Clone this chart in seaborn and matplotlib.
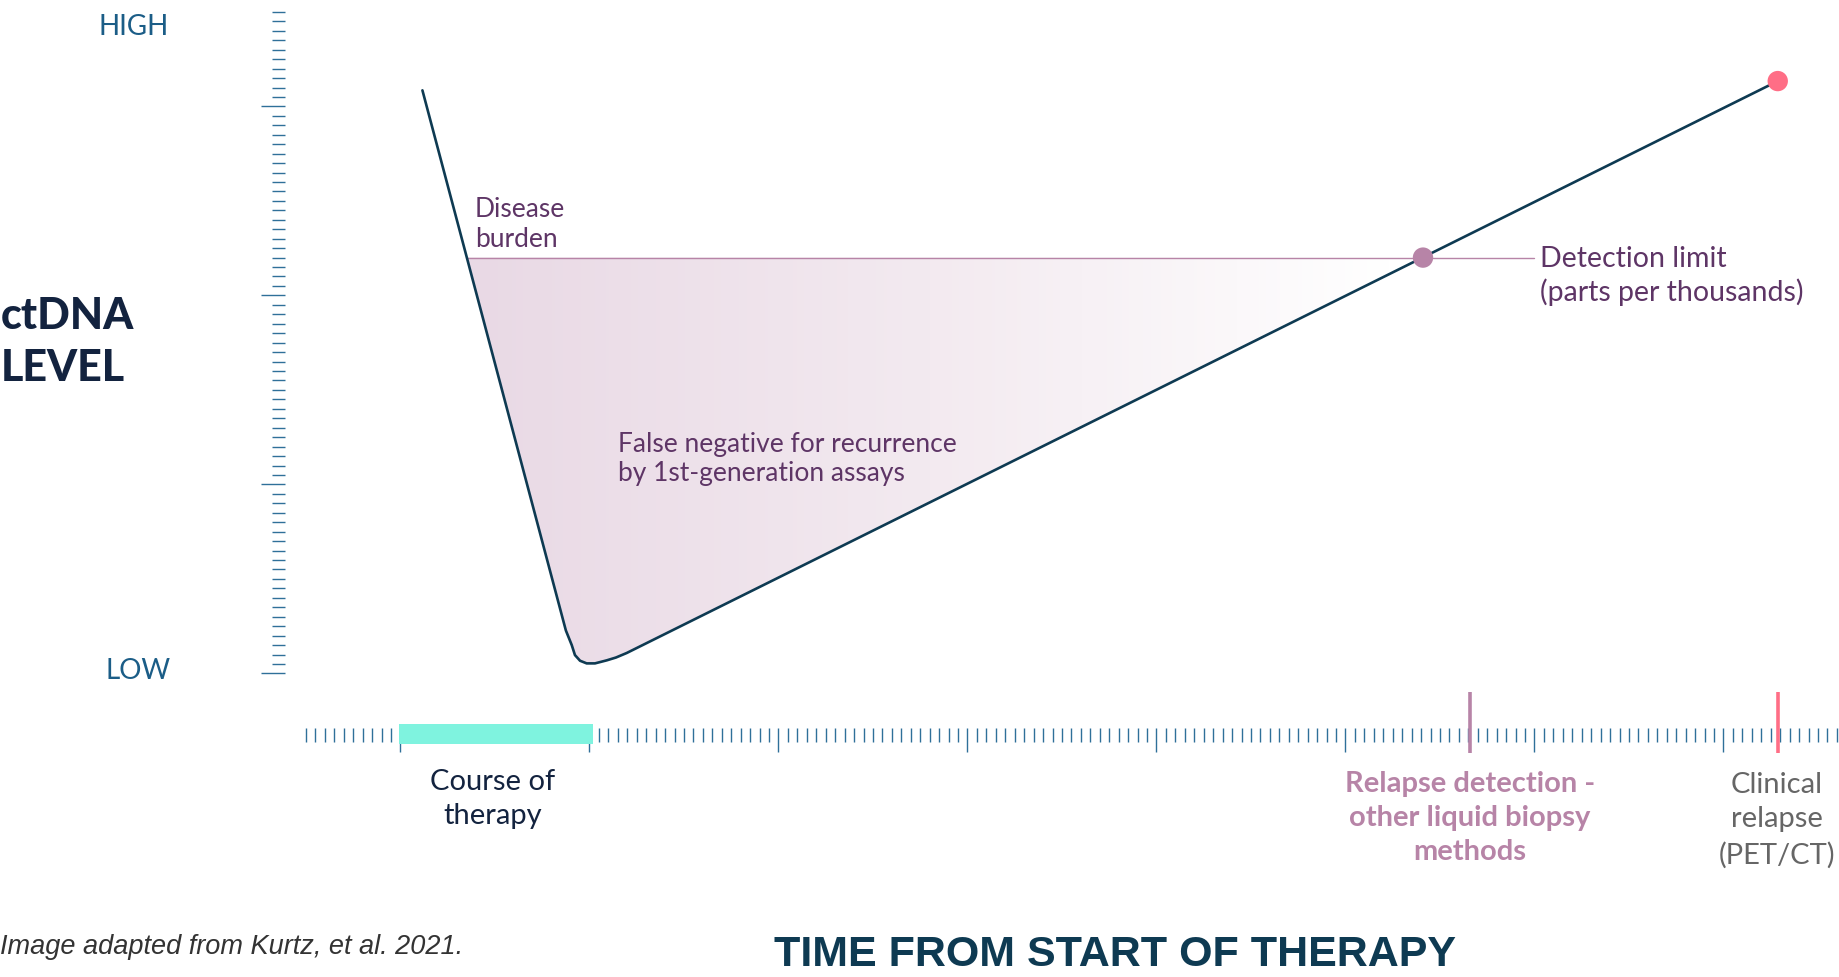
import numpy as np
import pandas as pd
import matplotlib
matplotlib.use("Agg")
import matplotlib.pyplot as plt
import seaborn as sns
from matplotlib.colors import LinearSegmentedColormap

# ---------------- data (time in arbitrary units, ctDNA level in arbitrary units) -------------
curve_time = [0.116, 0.875, 0.906, 0.923, 0.950, 0.985, 1.029, 1.091, 1.140, 1.197, 7.287]
curve_level = [3.085, 0.227, 0.150, 0.097, 0.067, 0.053, 0.053, 0.069, 0.084, 0.108, 3.134]
detection_limit = 2.2
detection_line_end = 6.0
detection_point_time = 5.41
clinical_relapse_time = 7.287
clinical_relapse_level = 3.134
relapse_detection_time = 5.66
therapy_start, therapy_end = 0.0, 1.0
time_major_ticks = [0, 1, 2, 3, 4, 5, 6, 7]
level_major_ticks = [0, 1, 2, 3]
time_tick_range = (-0.5, 7.6)
level_tick_range = (0.0, 3.5)
minor_step = 0.05

level_labels = ["LOW", "HIGH"]
y_title = "ctDNA\nLEVEL"
x_title = "TIME FROM START OF THERAPY"
caption = "Image adapted from Kurtz, et al. 2021."

# ---------------- colours ----------------
NAVY = "#0E3A52"
DARK = "#13233F"
TICK = "#2F7099"
MAUVE = "#B784A7"
PURPLE = "#5E3566"
PINK = "#FF6E86"
AQUA = "#7FF3DF"
GREY = "#666666"

sns.set_theme(style="white")
plt.rcParams["font.family"] = ["Lato", "DejaVu Sans"]

W, H = 1840, 977
fig = plt.figure(figsize=(W / 100, H / 100), dpi=100)
ax = fig.add_axes([0, 0, 1, 1])

# layout: pixel mapping
PPU = 189.0
X0, Y0 = 400.5, 673.4
ax.set_xlim(-X0 / PPU, (W - X0) / PPU)
ax.set_ylim(-(H - Y0) / PPU, Y0 / PPU)


def P(x, y):
    return (x - X0) / PPU, (Y0 - y) / PPU


df = pd.DataFrame({"time": curve_time, "level": curve_level})
t = np.array(curve_time)
lv = np.array(curve_level)

# gradient fill between curve and detection limit
poly = ax.fill_between(t, lv, detection_limit, where=lv <= detection_limit,
                       interpolate=True, facecolor="none", lw=0)
cmap = LinearSegmentedColormap.from_list("fade", ["#E9D9E5", "#F3EAF0", "#FFFFFF"])
grad = np.linspace(0, 1, 256).reshape(1, -1)
im = ax.imshow(grad, cmap=cmap, aspect="auto", extent=[0.35, 5.25, -0.1, 2.3],
               origin="lower", zorder=0.5, interpolation="bilinear")
im.set_clip_path(poly.get_paths()[0], transform=ax.transData)

# detection limit line
i_min = int(np.argmin(lv))
t_start = np.interp(detection_limit, lv[: i_min + 1][::-1], t[: i_min + 1][::-1])
ax.plot([t_start, detection_line_end], [detection_limit, detection_limit],
        color=MAUVE, lw=1.0, zorder=2)

# ctDNA curve
sns.lineplot(data=df, x="time", y="level", ax=ax, color=NAVY, lw=1.9,
             estimator=None, sort=False, zorder=3)
ax.lines[-1].set_solid_joinstyle("round")

# dots
dots = pd.DataFrame({"time": [detection_point_time, clinical_relapse_time],
                     "level": [detection_limit, clinical_relapse_level],
                     "kind": ["detect", "clinical"]})
sns.scatterplot(data=dots, x="time", y="level", hue="kind",
                palette={"detect": MAUVE, "clinical": PINK}, s=215,
                edgecolor="none", ax=ax, zorder=4, legend=False)

# course of therapy bar
ax.fill_between([therapy_start - 0.01, therapy_end + 0.016], -0.373, -0.266,
                color=AQUA, lw=0, zorder=1)

# relapse markers
ax.vlines(relapse_detection_time, -0.42, -0.098, color=MAUVE, lw=2.6, zorder=3)
ax.vlines(clinical_relapse_time, -0.42, -0.098, color=PINK, lw=2.6, zorder=3)

# ---------------- rulers (axes ticks) ----------------
for s in ax.spines.values():
    s.set_visible(False)
ax.spines["left"].set_position(("data", -0.611))
ax.spines["bottom"].set_position(("data", -0.287))
ax.set_xticks(time_major_ticks)
ax.set_xticks(np.arange(time_tick_range[0], time_tick_range[1] + 1e-9, minor_step), minor=True)
ax.set_yticks(level_major_ticks)
ax.set_yticks(np.arange(level_tick_range[0], level_tick_range[1] + 1e-9, minor_step), minor=True)
ax.set_xticklabels([])
ax.set_yticklabels([])
ax.tick_params(axis="x", which="minor", direction="out", length=10, width=1.0,
               color=TICK, bottom=True, top=False, labelbottom=False)
ax.tick_params(axis="x", which="major", direction="out", length=17, width=1.0,
               color=TICK, bottom=True, top=False, labelbottom=False)
ax.tick_params(axis="y", which="minor", direction="out", length=9.3, width=1.0,
               color=TICK, left=True, right=False, labelleft=False)
ax.tick_params(axis="y", which="major", direction="out", length=17.5, width=1.0,
               color=TICK, left=True, right=False, labelleft=False)
ax.set_xlabel("")
ax.set_ylabel("")
ax.grid(False)

# ---------------- texts ----------------
ax.text(*P(169, 27), level_labels[1], ha="right", va="center", fontsize=20,
        color="#1B5D87")
ax.text(*P(171, 671), level_labels[0], ha="right", va="center", fontsize=20,
        color="#1B5D87")
ax.text(*P(1, 342), y_title, ha="left", va="center", fontsize=31, fontweight="black",
        color=DARK, linespacing=1.35)

ax.text(*P(475, 224.5), "Disease\nburden", ha="left", va="center", fontsize=19,
        color=PURPLE, linespacing=1.24)
ax.text(*P(618, 459), "False negative for recurrence\nby 1st-generation assays",
        ha="left", va="center", fontsize=19, color=PURPLE, linespacing=1.24)
ax.text(*P(1540, 276), "Detection limit\n(parts per thousands)", ha="left",
        va="center", fontsize=20.5, color=PURPLE, linespacing=1.31)

ax.text(*P(493, 799), "Course of\ntherapy", ha="center", va="center", fontsize=21,
        color=DARK, linespacing=1.42)
ax.text(*P(1470, 818), "Relapse detection -\nother liquid biopsy\nmethods", ha="center",
        va="center", fontsize=21, fontweight="bold", color=MAUVE, linespacing=1.4)
ax.text(*P(1777, 820), "Clinical\nrelapse\n(PET/CT)", ha="center", va="center",
        fontsize=21, color=GREY, linespacing=1.42)

ax.text(*P(0, 947), caption, ha="left", va="center", fontsize=19.5, style="italic",
        color="#333333", family=["Liberation Sans Narrow", "Liberation Sans", "DejaVu Sans"])
ax.text(*P(1115, 955), x_title, ha="center", va="center", fontsize=31,
        fontweight="bold", color=NAVY,
        family=["Liberation Sans Narrow", "Liberation Sans", "DejaVu Sans"])

fig.savefig("out.png", dpi=100)
